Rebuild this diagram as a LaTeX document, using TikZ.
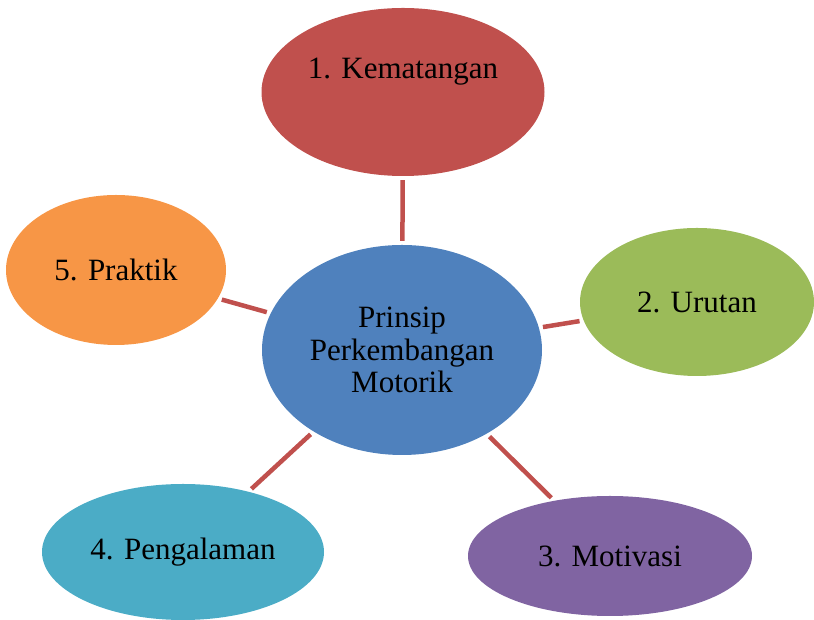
\documentclass[tikz,border=0pt]{standalone}
\usepackage{fontspec}
\setmainfont{Liberation Serif}
\usepackage{tikz}
\usetikzlibrary{shapes.geometric, calc}
\definecolor{kemred}{HTML}{C0504D}
\definecolor{centblue}{HTML}{4F81BD}
\definecolor{urutgreen}{HTML}{9BBB59}
\definecolor{motivpurple}{HTML}{8064A2}
\definecolor{pengteal}{HTML}{4BACC6}
\definecolor{prakorange}{HTML}{F79646}

\begin{document}
\begin{tikzpicture}[x=1pt, y=1pt,
  bubble/.style={ellipse, inner sep=0pt, font=\fontsize{31}{32.5}\selectfont, text centered},
  link/.style={line width=4.5pt, color=kemred, shorten <=4pt, shorten >=4pt}
]
  \useasboundingbox (0,0) rectangle (814,620);

  \node[bubble, fill=centblue, minimum width=280, minimum height=210, align=center] (prinsip) at (402, 270) {Prinsip\\Perkembangan\\Motorik};
  \node[bubble, fill=kemred, minimum width=283, minimum height=168,
        label={[font=\fontsize{31}{32.5}\selectfont, yshift=20pt]center:1. Kematangan}] (kem) at (403, 528) {};
  \node[bubble, fill=urutgreen, minimum width=234, minimum height=148] (urut) at (697, 318) {2. Urutan};
  \node[bubble, fill=motivpurple, minimum width=284, minimum height=120] (motiv) at (610, 64) {3. Motivasi};
  \node[bubble, fill=pengteal, minimum width=282, minimum height=136] (peng) at (183, 68) {4. Pengalaman};
  \node[bubble, fill=prakorange, minimum width=220, minimum height=150] (prak) at (116, 350) {5. Praktik};

  \draw[link] (prinsip) -- (kem);
  \draw[link] (prinsip) -- (urut);
  \draw[link] (prinsip) -- (motiv);
  \draw[link] (prinsip) -- (peng);
  \draw[link] (prinsip) -- (prak);
\end{tikzpicture}
\end{document}
